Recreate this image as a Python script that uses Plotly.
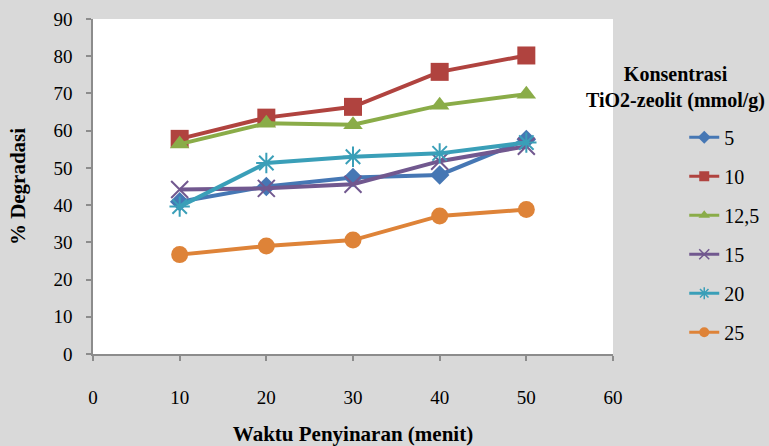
import plotly.graph_objects as go

# Irradiation time (minutes)
waktu = [10, 20, 30, 40, 50]

# Degradation (%) for each TiO2-zeolite concentration (mmol/g)
konsentrasi = ["5", "10", "12,5", "15", "20", "25"]
deg_5 = [40.9, 45.0, 47.4, 48.1, 57.6]
deg_10 = [57.8, 63.5, 66.4, 75.8, 80.2]
deg_12_5 = [56.4, 62.0, 61.6, 66.8, 69.8]
deg_15 = [44.2, 44.5, 45.6, 51.8, 55.8]
deg_20 = [39.6, 51.3, 53.0, 53.9, 56.8]
deg_25 = [26.7, 29.0, 30.6, 37.1, 38.8]

series = [deg_5, deg_10, deg_12_5, deg_15, deg_20, deg_25]
colors = ["#4677b4", "#b0433f", "#8aac48", "#71588f", "#3a9fb8", "#de8338"]
symbols = ["diamond", "square", "triangle-up", "x-thin", "asterisk", "circle"]
sizes = [15, 18, 17, 17, 17, 17]

FONT = "'Liberation Serif', 'Times New Roman', 'DejaVu Serif', serif"
FONT_PLAIN = "Times New Roman"

fig = go.Figure()
for name, ys, c, sym, sz in zip(konsentrasi, series, colors, symbols, sizes):
    thin = sym in ("x-thin", "asterisk")
    fig.add_trace(go.Scatter(
        x=waktu, y=ys, name=name, mode="lines+markers",
        showlegend=False,
        line=dict(color=c, width=4),
        marker=dict(symbol=sym, size=sz, color=c,
                    line=dict(color=c, width=2 if thin else 0)),
    ))

# Legend entries with smaller markers
for name, c, sym in zip(konsentrasi, colors, symbols):
    thin = sym in ("x-thin", "asterisk")
    fig.add_trace(go.Scatter(
        x=[None], y=[None], name=name, mode="lines+markers",
        legendgroup=name, showlegend=True,
        line=dict(color=c, width=3),
        marker=dict(symbol=sym, size=10, color=c,
                    line=dict(color=c, width=1.5 if thin else 0)),
    ))

axis_common = dict(
    showgrid=False, zeroline=False, showline=True,
    linecolor="#8c8c8c", linewidth=1.5,
    ticks="outside", ticklen=5, tickcolor="#8c8c8c", tickwidth=1.5,
    tickfont=dict(family=FONT, size=19, color="#000"),
)

fig.update_xaxes(range=[0, 60], dtick=10, ticklabelstandoff=20,
                 title=dict(text="<b>Waktu Penyinaran (menit)</b>",
                            font=dict(family=FONT, size=21, color="#000"),
                            standoff=23),
                 **axis_common)
fig.update_yaxes(range=[0, 90], dtick=10, ticklabelstandoff=10,
                 title=dict(text="<b>% Degradasi</b>",
                            font=dict(family=FONT, size=21, color="#000"),
                            standoff=22),
                 **axis_common)

fig.add_annotation(
    text="<b>Konsentrasi<br>TiO2-zeolit (mmol/g)</b>",
    xref="paper", yref="paper", x=1.121, y=0.796,
    xanchor="center", yanchor="middle", showarrow=False, align="center",
    font=dict(family=FONT_PLAIN, size=20, color="#000"),
)

fig.update_layout(
    width=769, height=446,
    margin=dict(l=93, r=156, t=19, b=92, autoexpand=False),
    paper_bgcolor="#d9d9d9", plot_bgcolor="#ffffff",
    font=dict(family=FONT, color="#000"),
    legend=dict(x=1.137, y=0.705, xanchor="left", yanchor="top",
                bgcolor="rgba(0,0,0,0)", tracegroupgap=10,
                font=dict(family=FONT_PLAIN, size=20, color="#000")),
)

fig.write_html("out.html")
